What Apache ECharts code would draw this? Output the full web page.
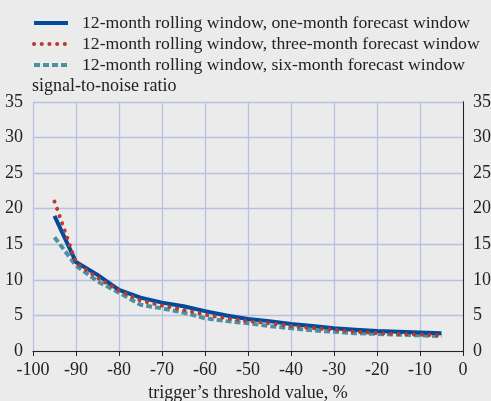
<!DOCTYPE html>
<html><head><meta charset="utf-8">
<script src="https://cdn.jsdelivr.net/npm/echarts@6/dist/echarts.min.js"></script>
<style>html,body{margin:0;padding:0;background:#ebebeb;}#c{width:491px;height:401px;}</style>
</head><body><div id="c"></div>
<script>
var xValues = [-95,-90,-85,-80,-75,-70,-65,-60,-55,-50,-45,-40,-35,-30,-25,-20,-15,-10,-5];
var oneMonth = [19.0,12.5,10.7,8.6,7.5,6.8,6.3,5.6,5.0,4.5,4.2,3.8,3.5,3.2,3.0,2.8,2.7,2.6,2.5];
var threeMonth = [21.0,12.4,10.3,8.5,7.1,6.4,5.8,5.1,4.6,4.2,3.9,3.5,3.2,3.0,2.7,2.5,2.4,2.3,2.2];
var sixMonth = [16.0,12.0,9.8,8.2,6.5,6.0,5.4,4.6,4.2,3.9,3.5,3.2,2.9,2.7,2.5,2.4,2.3,2.2,2.1];
var seriesNames = ['12-month rolling window, one-month forecast window','12-month rolling window, three-month forecast window','12-month rolling window, six-month forecast window'];
var yTitle = 'signal-to-noise ratio';
var xTitle = 'trigger\u2019s threshold value, %';

function pairs(v){ return xValues.map(function(x,i){return [x,v[i]];}); }
var font = '"Liberation Serif","Times New Roman",serif';
var FS = 18;
var colors = ['#004b9b','#b83a2e','#4e8fa0'];
var lineStyles = [
  {color:colors[0], width:4, type:'solid'},
  {color:colors[1], width:4, type:[0.1,7.6], cap:'round'},
  {color:colors[2], width:4, type:[6,3]}
];
var chart = echarts.init(document.getElementById('c'));
var yAxisCommon = {
  type:'value', min:0, max:35, interval:5,
  axisLine:{show:true, lineStyle:{color:'#222', width:1}},
  axisTick:{show:false},
  axisLabel:{fontFamily:font, fontSize:FS, color:'#222', margin:10},
  splitLine:{show:true, lineStyle:{color:'#b9c0e0', width:1.3}}
};
chart.setOption({
  backgroundColor:'#ebebeb',
  animation:false,
  title:{text:yTitle, left:27, top:72, textStyle:{fontFamily:font, fontSize:FS, fontWeight:'normal', color:'#222'}},
  legend:{
    orient:'vertical', left:32, top:14, padding:0, itemWidth:34, itemHeight:10, itemGap:3,
    textStyle:{fontFamily:font, fontSize:17.7, color:'#222', padding:[0,0,0,9]},
    itemStyle:{opacity:0},
    data:seriesNames.map(function(n,i){return {name:n, lineStyle:lineStyles[i], itemStyle:{opacity:0}};})
  },
  grid:{left:33, right:28, top:102, bottom:50, outerBoundsMode:'none', containLabel:false},
  xAxis:{
    type:'value', min:-100, max:0, interval:10,
    name:xTitle, nameLocation:'middle', nameGap:33,
    nameTextStyle:{fontFamily:font, fontSize:FS, color:'#222'},
    axisLine:{show:true, lineStyle:{color:'#222', width:1}},
    axisTick:{show:true, inside:false, length:5, lineStyle:{color:'#222'}},
    axisLabel:{fontFamily:font, fontSize:FS, color:'#222', margin:10},
    splitLine:{show:true, lineStyle:{color:'#b9c0e0', width:1.3}}
  },
  yAxis:[
    Object.assign({position:'left'}, yAxisCommon),
    Object.assign({position:'right'}, yAxisCommon, {splitLine:{show:false}})
  ],
  series:[0,1,2].map(function(i){
    return {name:seriesNames[i], type:'line', data:pairs([oneMonth,threeMonth,sixMonth][i]), symbol:'none', z:[3,4,2][i],
      lineStyle:lineStyles[i], itemStyle:{color:colors[i]}};
  })
});
</script></body></html>
